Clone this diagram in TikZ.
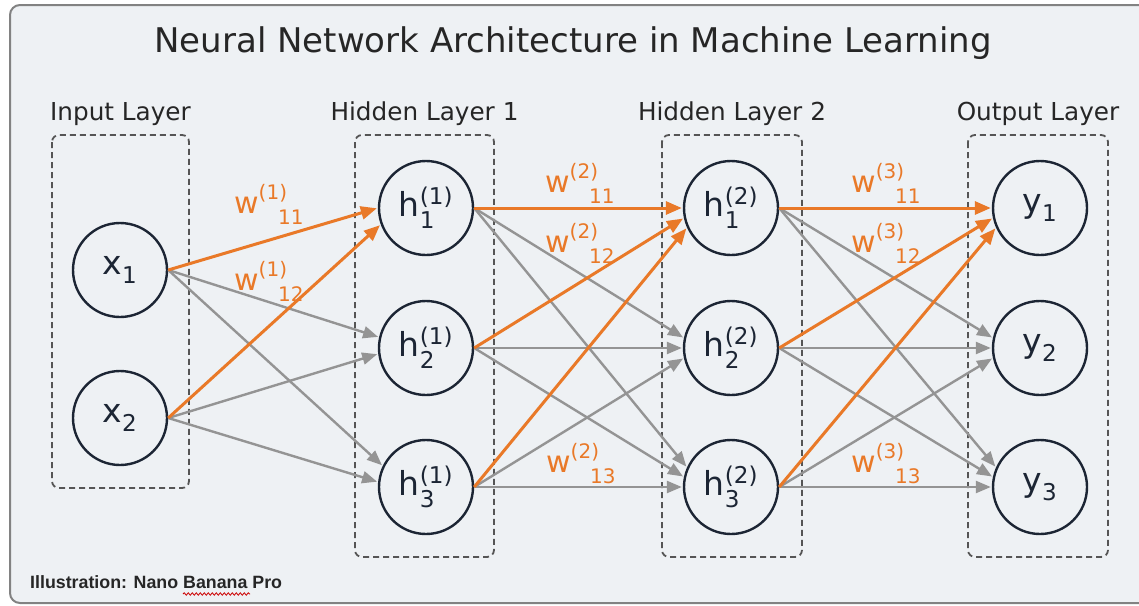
\documentclass[tikz,border=0pt]{standalone}
\usepackage{amsmath}
\usepackage{fontspec}
\setmainfont{DejaVu Sans}
\newfontfamily\notefont{Liberation Sans}
\usetikzlibrary{arrows.meta,decorations.pathmorphing}
\definecolor{NNBack}{RGB}{238,241,244}
\definecolor{NNFrame}{RGB}{130,130,130}
\definecolor{NNDark}{RGB}{28,37,52}
\definecolor{NNOrange}{RGB}{233,121,40}
\definecolor{NNGray}{RGB}{148,148,148}
\definecolor{NNDash}{RGB}{85,85,85}
\newcommand{\fsz}[1]{\fontsize{#1pt}{#1pt}\selectfont}
\newcommand{\wtext}[2]{w\raisebox{14pt}{\fsz{20}(#1)}\hspace{-9pt}\raisebox{-11pt}{\fsz{20}#2}}

\begin{document}
\begin{tikzpicture}[x=1pt, y=-1pt,
    neuron/.style={circle, draw=NNDark, line width=2.4pt, fill=NNBack, minimum size=94pt, inner sep=0pt, font=\fsz{33}, text=NNDark},
    layerbox/.style={draw=NNDash, dash pattern=on 6pt off 4pt, line width=1.8pt, rounded corners=7pt},
    layerlab/.style={font=\fsz{24.7}, text=black!85, anchor=base},
    weightlab/.style={font=\fsz{30}, text=NNOrange, anchor=base west, inner sep=0pt},
    grayedge/.style={draw=NNGray, line width=2.4pt, -{Triangle[length=15pt,width=12pt]}, shorten >=1pt},
    orangeedge/.style={draw=NNOrange, line width=3pt, -{Triangle[length=16pt,width=13pt]}, shorten >=1pt}]

      % Frame
      \useasboundingbox (0,0) rectangle (1139,605);
      \draw[draw=NNFrame, line width=2pt, fill=NNBack, rounded corners=10pt] (10,5) rectangle (1160,603);
      \node[font=\fsz{34}, anchor=base, text=black!85] (title) at (573,52) {Neural Network Architecture in Machine Learning};

      % Layer boxes & labels
      \foreach \nm/\xl/\xr/\yb/\lab in {inp/52/189/488/Input Layer, hida/355/494/557/Hidden Layer 1,
                                         hidb/662/802/557/Hidden Layer 2, outp/968/1108/557/Output Layer} {
        \draw[layerbox] (\xl,135) rectangle (\xr,\yb);
        \node[layerlab] (\nm lab) at ({(\xl+\xr)/2},120) {\lab};
      }

      % Neurons
      \node[neuron] (x1) at (120,270) {x$_{\text{1}}$};
      \node[neuron] (x2) at (120,418) {x$_{\text{2}}$};
      \foreach \i/\yy in {1/208, 2/348, 3/487} {
        \node[neuron] (ha\i) at (426,\yy) {h$^{\text{(1)}}_{\text{\i}}$};
        \node[neuron] (hb\i) at (731,\yy) {h$^{\text{(2)}}_{\text{\i}}$};
        \node[neuron] (y\i) at (1040,\yy) {y$_{\text{\i}}$};
      }

      % Connections (grey first, orange on top)
      \foreach \j in {1,2}
        \foreach \i in {2,3} {
          \pgfmathsetmacro\ang{180+20*(\j-1)-13*(\i-1)}
          \draw[grayedge] (x\j.east) -- (ha\i.\ang);
        }
      \foreach \s/\t in {ha/hb, hb/y}
        \foreach \j in {1,2,3}
          \foreach \i in {2,3} {
            \pgfmathsetmacro\ang{180+12*(\j-\i)}
            \draw[grayedge] (\s\j.east) -- (\t\i.\ang);
          }
      \foreach \j in {1,2} {
        \pgfmathsetmacro\ang{180+20*(\j-1)}
        \draw[orangeedge] (x\j.east) -- (ha1.\ang);
      }
      \foreach \s/\t in {ha/hb, hb/y}
        \foreach \j in {1,2,3} {
          \pgfmathsetmacro\ang{180+12*(\j-1)}
          \draw[orangeedge] (\s\j.east) -- (\t1.\ang);
        }

      % Weight labels
      \node[weightlab] (w111) at (234,213) {\wtext{1}{11}};
      \node[weightlab] (w112) at (234,290) {\wtext{1}{12}};
      \node[weightlab] (w211) at (545,192) {\wtext{2}{11}};
      \node[weightlab] (w212) at (545,252) {\wtext{2}{12}};
      \node[weightlab] (w213) at (546,472) {\wtext{2}{13}};
      \node[weightlab] (w311) at (851,192) {\wtext{3}{11}};
      \node[weightlab] (w312) at (851,252) {\wtext{3}{12}};
      \node[weightlab] (w313) at (851,472) {\wtext{3}{13}};

      % Credit line
      \node[font=\notefont\bfseries\fsz{17.8}, anchor=base west, inner sep=0pt, text=black!85] (credit) at (30,588) {Illustration: Nano Banana Pro};
      \draw[red!80!black, line width=0.8pt, decorate, decoration={snake, amplitude=1.2pt, segment length=4pt}] (183,594) -- (250,594);
    \end{tikzpicture}
\end{document}
